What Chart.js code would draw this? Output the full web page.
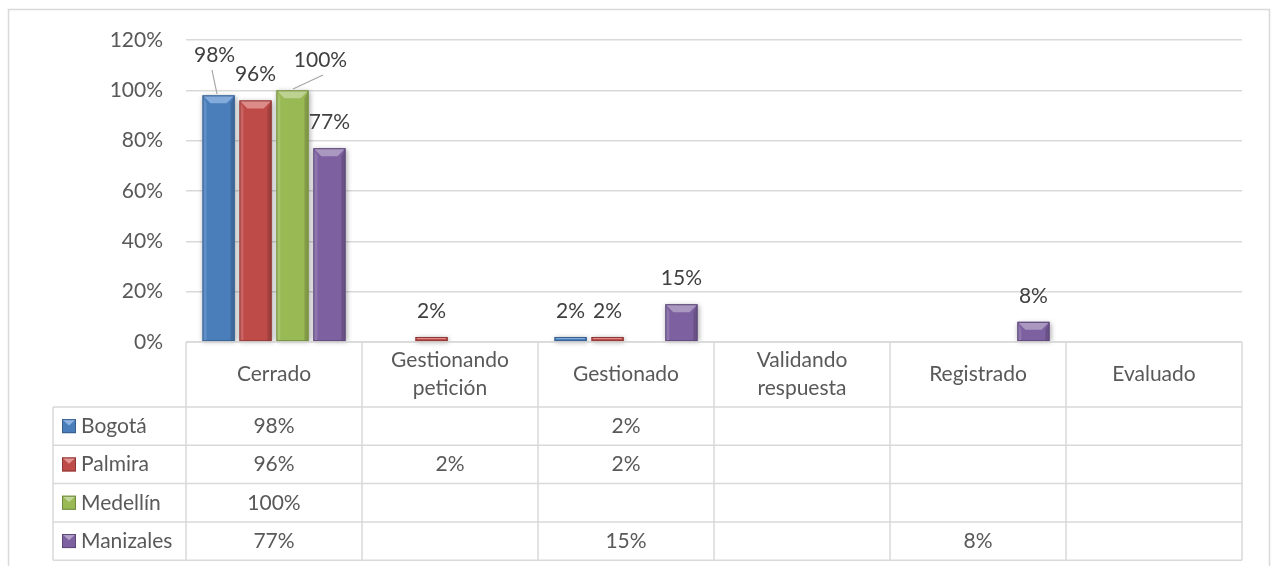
<!DOCTYPE html>
<html>
<head>
<meta charset="utf-8">
<script src="https://cdn.jsdelivr.net/npm/chart.js@4"></script>
<style>
  html, body { margin: 0; padding: 0; background: #fff; }
  #wrap { width: 1273px; height: 566px; }
</style>
</head>
<body>
<div id="wrap"><canvas id="chart" width="1273" height="566"></canvas></div>
<script>
const categories = ['Cerrado', ['Gestionando', 'petición'], 'Gestionado', ['Validando', 'respuesta'], 'Registrado', 'Evaluado'];
const seriesNames = ['Bogotá', 'Palmira', 'Medellín', 'Manizales'];
const bogota = [98, null, 2, null, null, null];
const palmira = [96, 2, 2, null, null, null];
const medellin = [100, null, null, null, null, null];
const manizales = [77, null, 15, null, 8, null];
const yTicks = [0, 20, 40, 60, 80, 100, 120];

const fills = ['#4a7ebb', '#be4b48', '#98b954', '#7d60a0'];
const edges = ['#385d8a', '#8c3836', '#71893f', '#5c4776'];
const lights = ['#8db3e2', '#e39694', '#c3d69b', '#b3a2c7'];

const FONT = '"Lato", "Open Sans", sans-serif';
const FSIZE = 21;
const TEXT = '#595959';
const LINE = '#d9d9d9';

// labels that Excel moved off the bar, with leader lines
const labelMoves = {
    '0-0': { dx: -4, dy: -40, leader: [[212, 70], [217, 94]] },
    '2-0': { dx: 28, dy: -30, leader: [[323, 75], [293, 89]] }
};

function fmt(v) { return v + '%'; }

function bevelSquare(ctx, x, y, s, i) {
    ctx.fillStyle = fills[i];
    ctx.fillRect(x, y, s, s);
    ctx.fillStyle = lights[i];
    ctx.beginPath();
    ctx.moveTo(x, y);
    ctx.lineTo(x + s, y);
    ctx.lineTo(x + s / 2, y + s * 0.45);
    ctx.closePath();
    ctx.fill();
    ctx.strokeStyle = edges[i];
    ctx.lineWidth = 1;
    ctx.strokeRect(x + 0.5, y + 0.5, s - 1, s - 1);
}

const bevelPlugin = {
    id: 'bevel',
    beforeDatasetsDraw(chart) {
        // soft shadow behind bars
        const ctx = chart.ctx;
        ctx.save();
        ctx.shadowColor = 'rgba(0,0,0,0.35)';
        ctx.shadowBlur = 5;
        ctx.shadowOffsetX = 1;
        ctx.shadowOffsetY = 1;
        ctx.fillStyle = '#fff';
        chart.data.datasets.forEach((ds, di) => {
            chart.getDatasetMeta(di).data.forEach((bar, i) => {
                if (ds.data[i] == null) return;
                ctx.fillRect(bar.x - bar.width / 2, bar.y, bar.width, bar.base - bar.y);
            });
        });
        ctx.restore();
    },
    afterDatasetsDraw(chart) {
        const ctx = chart.ctx;
        ctx.save();
        chart.data.datasets.forEach((ds, di) => {
            chart.getDatasetMeta(di).data.forEach((bar, i) => {
                if (ds.data[i] == null) return;
                const w = bar.width;
                const x0 = bar.x - w / 2, x1 = bar.x + w / 2;
                const top = bar.y, bottom = bar.base;
                const h = bottom - top;
                const b = Math.min(8, w * 0.25, h / 2);
                ctx.fillStyle = lights[di];
                ctx.globalAlpha = 0.85;
                ctx.beginPath();
                ctx.moveTo(x0, top);
                ctx.lineTo(x1, top);
                ctx.lineTo(x1 - b, top + b);
                ctx.lineTo(x0 + b, top + b);
                ctx.closePath();
                ctx.fill();
                ctx.globalAlpha = 0.35;
                ctx.beginPath();
                ctx.moveTo(x0, top);
                ctx.lineTo(x0 + b * 0.5, top + b);
                ctx.lineTo(x0 + b * 0.5, bottom);
                ctx.lineTo(x0, bottom);
                ctx.closePath();
                ctx.fill();
                ctx.fillStyle = edges[di];
                ctx.globalAlpha = 0.6;
                ctx.beginPath();
                ctx.moveTo(x1, top);
                ctx.lineTo(x1 - b * 0.5, top + b);
                ctx.lineTo(x1 - b * 0.5, bottom);
                ctx.lineTo(x1, bottom);
                ctx.closePath();
                ctx.fill();
                ctx.globalAlpha = 1;
                ctx.strokeStyle = edges[di];
                ctx.lineWidth = 1;
                ctx.strokeRect(x0 + 0.5, top + 0.5, w - 1, h - 1);
            });
        });
        // value labels
        ctx.font = FSIZE + 'px ' + FONT;
        ctx.fillStyle = '#404040';
        ctx.textAlign = 'center';
        ctx.textBaseline = 'middle';
        chart.data.datasets.forEach((ds, di) => {
            chart.getDatasetMeta(di).data.forEach((bar, i) => {
                const v = ds.data[i];
                if (v == null) return;
                const mv = labelMoves[di + '-' + i];
                if (mv) {
                    ctx.fillText(fmt(v), bar.x + mv.dx, bar.y + mv.dy);
                    ctx.strokeStyle = '#a6a6a6';
                    ctx.lineWidth = 1.2;
                    ctx.beginPath();
                    ctx.moveTo(mv.leader[0][0], mv.leader[0][1]);
                    ctx.lineTo(mv.leader[1][0], mv.leader[1][1]);
                    ctx.stroke();
                } else {
                    ctx.fillText(fmt(v), bar.x, bar.y - 26);
                }
            });
        });
        ctx.restore();
    }
};

const tablePlugin = {
    id: 'dataTable',
    afterDraw(chart) {
        const ctx = chart.ctx;
        const area = chart.chartArea;
        const xs = chart.scales.x;
        const n = categories.length;
        const cw = area.width / n;
        const top = area.bottom;
        const headH = 65;
        const rowH = 38.3;
        const legendLeft = 53;
        const rowsTop = top + headH;
        const bottom = rowsTop + rowH * seriesNames.length;
        ctx.save();

        ctx.strokeStyle = LINE;
        ctx.lineWidth = 1.5;
        ctx.strokeRect(8.5, 9.5, 1261, 570);

        ctx.beginPath();
        ctx.moveTo(area.left, top);
        ctx.lineTo(area.right, top);
        for (let r = 0; r <= seriesNames.length; r++) {
            const y = rowsTop + r * rowH;
            ctx.moveTo(legendLeft, y);
            ctx.lineTo(area.right, y);
        }
        ctx.moveTo(legendLeft, rowsTop);
        ctx.lineTo(legendLeft, bottom);
        for (let c = 0; c <= n; c++) {
            const x = area.left + c * cw;
            ctx.moveTo(x, top);
            ctx.lineTo(x, bottom);
        }
        ctx.stroke();

        ctx.font = FSIZE + 'px ' + FONT;
        ctx.fillStyle = TEXT;
        ctx.textAlign = 'center';
        ctx.textBaseline = 'middle';
        categories.forEach((cat, c) => {
            const cx = xs.getPixelForValue(c);
            const lines = Array.isArray(cat) ? cat : [cat];
            const lh = 28;
            const y0 = top + headH / 2 - (lines.length - 1) * lh / 2;
            lines.forEach((t, k) => ctx.fillText(t, cx, y0 + k * lh));
        });

        chart.data.datasets.forEach((ds, di) => {
            const cy = rowsTop + di * rowH + rowH / 2;
            ctx.fillStyle = TEXT;
            ds.data.forEach((v, c) => {
                if (v == null) return;
                ctx.textAlign = 'center';
                ctx.fillText(fmt(v), xs.getPixelForValue(c), cy);
            });
            bevelSquare(ctx, 62, cy - 7, 14, di);
            ctx.fillStyle = TEXT;
            ctx.textAlign = 'left';
            ctx.fillText(ds.label, 81, cy);
        });
        ctx.restore();
    }
};

const seriesData = [bogota, palmira, medellin, manizales];

new Chart(document.getElementById('chart'), {
    type: 'bar',
    data: {
        labels: categories,
        datasets: seriesData.map((d, i) => ({
            label: seriesNames[i],
            data: d,
            backgroundColor: fills[i],
            borderWidth: 0,
            categoryPercentage: 0.84,
            barPercentage: 0.87
        }))
    },
    options: {
        responsive: false,
        animation: false,
        layout: { padding: { left: 8, right: 31, top: 40, bottom: 224 } },
        scales: {
            x: { display: false },
            y: {
                min: 0,
                max: 120,
                afterFit: s => { s.width = 178; },
                afterBuildTicks: s => { s.ticks = yTicks.map(v => ({ value: v })); },
                ticks: {
                    padding: 23,
                    color: TEXT,
                    font: { family: FONT, size: FSIZE },
                    callback: v => fmt(v)
                },
                grid: { color: LINE, lineWidth: 1.5, drawTicks: false },
                border: { display: false }
            }
        },
        plugins: {
            legend: { display: false },
            tooltip: { enabled: false }
        }
    },
    plugins: [bevelPlugin, tablePlugin]
});
</script>
</body>
</html>
